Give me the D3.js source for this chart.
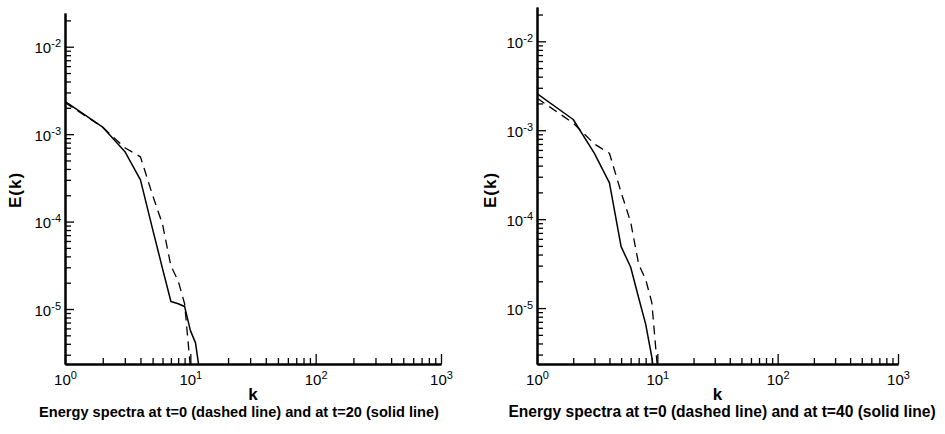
<!DOCTYPE html>
<html>
<head>
<meta charset="utf-8">
<script src="https://cdn.jsdelivr.net/npm/d3@7"></script>
<style>
    body { margin: 0; background: #fff; }
    svg { font-family: "Liberation Sans", Arial, Helvetica, sans-serif; background: #fff; }
    .axis path.domain { stroke: #000; stroke-width: 2; }
    .axis line { stroke: #000; stroke-width: 1.3; }
    .axis text { font-size: 15px; fill: #000; }
    .axis-title { font-size: 17px; font-weight: bold; fill: #000; }
    .caption { font-weight: bold; fill: #000; }
</style>
</head>
<body>
<svg id="chart" width="945" height="434"></svg>
<script>
// wavenumbers k
const kValues = [1, 2, 3, 4, 5, 6, 7, 8, 9, 10, 11, 12];

// E(k) at t=0 (dashed, same in both panels)
const energyT0 = [2.3e-3, 1.2e-3, 7.0e-4, 5.5e-4, 2.0e-4, 9.3e-5, 3.1e-5, 2.1e-5, 1.15e-5, 2.2e-6, 1.0e-6, 5e-7];
// E(k) at t=20 (solid, left panel)
const energyT20 = [2.37e-3, 1.2e-3, 6.35e-4, 3.0e-4, 8.2e-5, 2.9e-5, 1.22e-5, 1.15e-5, 1.07e-5, 5.7e-6, 4.1e-6, 1.7e-6];
// E(k) at t=40 (solid, right panel)
const energyT40 = [2.58e-3, 1.32e-3, 5.5e-4, 2.56e-4, 4.9e-5, 2.9e-5, 1.3e-5, 6.6e-6, 2.8e-6, 1.0e-6, 5e-7, 3e-7];

const xDomain = [1, 1000];
const yDomain = [2.35e-6, 2.43e-2];
const xMajorTicks = [1, 10, 100, 1000];
const yMajorTicks = [1e-5, 1e-4, 1e-3, 1e-2];

const captions = [
    "Energy spectra at t=0 (dashed line) and at t=20 (solid line)",
    "Energy spectra at t=0 (dashed line) and at t=40 (solid line)"
];

const toPoints = (ys) => kValues.map((k, i) => ({ x: k, y: ys[i] }));

// minor ticks 2..9 inside each decade
const minorTicks = (domain) => {
    const out = [];
    for (let e = Math.floor(Math.log10(domain[0])); e <= Math.ceil(Math.log10(domain[1])); e++) {
        for (let m = 2; m <= 9; m++) {
            const v = m * Math.pow(10, e);
            if (v >= domain[0] && v <= domain[1]) out.push(v);
        }
    }
    return out;
};

class spectrumPlot {
    constructor(config) {
        this.data = config.data;
        this.caption = config.caption;
        this.rootId = config.rootId;
        this.id = config.id;
        this.dimension = config.dimension;
        this.padding = config.padding;
        this.labels = config.labels;

        this.updateDimensions();
        this.createScale();
        this.render();
    }
    updateDimensions() {
        this.dimension.innerWidth = this.dimension.width - this.padding.left - this.padding.right;
        this.dimension.innerHeight = this.dimension.height - this.padding.top - this.padding.bottom;
    }
    createScale() {
        this.scale = {
            x: d3.scaleLog().domain(xDomain).range([0, this.dimension.innerWidth]),
            y: d3.scaleLog().domain(yDomain).range([this.dimension.innerHeight, 0])
        };
    }
    render() {
        const self = this;
        const svg = d3.select(`#${self.rootId}`)
            .append("g")
            .attr("id", `${self.id}-g`)
            .attr("transform", `translate(${self.dimension.x + self.padding.left}, ${self.padding.top})`);

        svg.append("clipPath")
            .attr("id", `${self.id}-clip`)
            .append("rect")
            .attr("width", self.dimension.innerWidth)
            .attr("height", self.dimension.innerHeight);

        const line = d3.line()
            .x(d => self.scale.x(d.x))
            .y(d => self.scale.y(d.y));

        svg.append("g")
            .attr("clip-path", `url(#${self.id}-clip)`)
            .selectAll("path")
            .data(self.data)
            .enter()
            .append("path")
            .attr("fill", "none")
            .attr("stroke", "#000")
            .attr("stroke-width", d => d.dashed ? 1.3 : 1.5)
            .attr("stroke-dasharray", d => d.dashed ? "9,6" : null)
            .attr("stroke-linejoin", "round")
            .attr("d", d => line(d.points));

        self._axis();
        self._title();
    }
    _axis() {
        const self = this;
        const svg = d3.select(`#${self.id}-g`);

        const superscript = function(d) {
            const t = d3.select(this);
            t.text(null);
            t.append("tspan").text("10");
            t.append("tspan").attr("dy", -6).attr("font-size", 11).text(Math.round(Math.log10(d)));
        };

        // x axis
        svg.append("g")
            .attr("class", "axis x minor")
            .attr("transform", `translate(0,${self.dimension.innerHeight})`)
            .call(d3.axisBottom(self.scale.x).tickValues(minorTicks(xDomain)).tickSizeInner(-6).tickSizeOuter(0).tickFormat(""));
        svg.append("g")
            .attr("class", "axis x")
            .attr("transform", `translate(0,${self.dimension.innerHeight})`)
            .call(d3.axisBottom(self.scale.x).tickValues(xMajorTicks).tickSizeInner(-10).tickSizeOuter(0).tickPadding(10))
            .selectAll(".tick text").each(superscript);

        // y axis
        svg.append("g")
            .attr("class", "axis y minor")
            .call(d3.axisLeft(self.scale.y).tickValues(minorTicks(yDomain)).tickSizeInner(-6).tickSizeOuter(0).tickFormat(""));
        svg.append("g")
            .attr("class", "axis y")
            .call(d3.axisLeft(self.scale.y).tickValues(yMajorTicks).tickSizeInner(-9).tickSizeOuter(0).tickPadding(4))
            .selectAll(".tick text").attr("dy", "0.4em").each(superscript);

        svg.selectAll(".axis path.domain").attr("stroke-width", 2);

        svg.append("text")
            .attr("class", "axis-title")
            .attr("x", self.dimension.innerWidth / 2)
            .attr("y", 400 - self.padding.top)
            .attr("text-anchor", "middle")
            .text("k");

        svg.append("text")
            .attr("class", "axis-title")
            .attr("transform", `translate(${self.labels.yTitleX - self.dimension.x - self.padding.left},${190 - self.padding.top})rotate(-90)`)
            .attr("dy", "0.35em")
            .attr("text-anchor", "middle")
            .attr("letter-spacing", 1)
            .text("E(k)");
    }
    _title() {
        const self = this;
        d3.select(`#${self.id}-g`)
            .append("text")
            .attr("class", "caption")
            .attr("x", self.labels.captionX - self.dimension.x - self.padding.left)
            .attr("y", 417 - self.padding.top)
            .attr("text-anchor", "middle")
            .attr("font-size", self.labels.captionSize)
            .text(self.caption);
    }
}

new spectrumPlot({
    rootId: "chart",
    id: "left",
    data: [
        { dashed: true, points: toPoints(energyT0) },
        { dashed: false, points: toPoints(energyT20) }
    ],
    caption: captions[0],
    dimension: { x: 0, width: 472, height: 434 },
    padding: { left: 65, right: 31, top: 13, bottom: 70 },
    labels: { yTitleX: 15.5, captionX: 239, captionSize: 14.6 }
});

new spectrumPlot({
    rootId: "chart",
    id: "right",
    data: [
        { dashed: true, points: toPoints(energyT0) },
        { dashed: false, points: toPoints(energyT40) }
    ],
    caption: captions[1],
    dimension: { x: 472, width: 473, height: 434 },
    padding: { left: 65, right: 47, top: 7, bottom: 70 },
    labels: { yTitleX: 490, captionX: 722, captionSize: 15.6 }
});
</script>
</body>
</html>
